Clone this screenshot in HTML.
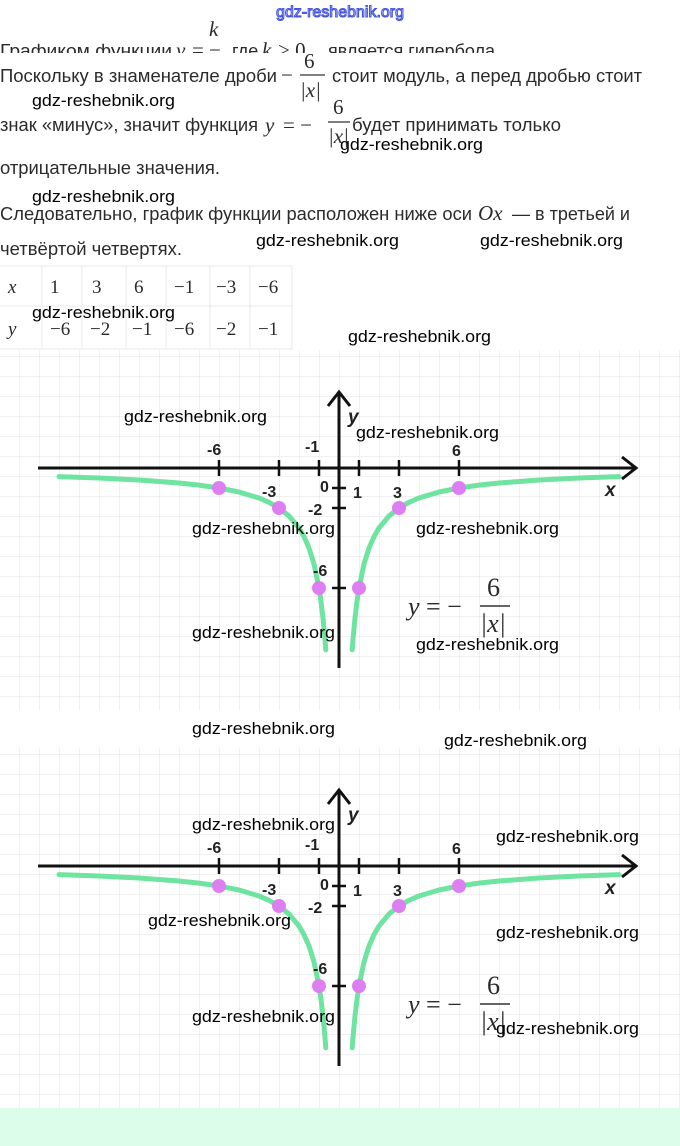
<!DOCTYPE html>
<html><head><meta charset="utf-8"><style>
html,body{margin:0;padding:0;background:#fff;width:680px;height:1146px;overflow:hidden}
svg{display:block}
.t{font-family:"Liberation Sans",sans-serif;font-size:18px;fill:#2b2b2b}
.m{font-family:"Liberation Serif",serif;font-size:21px;fill:#2b2b2b}
.mi{font-family:"Liberation Serif",serif;font-style:italic;font-size:21px;fill:#2b2b2b}
.w{font-family:"Liberation Sans",sans-serif;font-size:17px;fill:#000}
.l{font-family:"Liberation Sans",sans-serif;font-size:16px;font-weight:bold;fill:#222}
</style></head><body>
<svg width="680" height="1146" viewBox="0 0 680 1146" xmlns="http://www.w3.org/2000/svg">
<defs>
<pattern id="g" width="20" height="20" patternUnits="userSpaceOnUse" x="19" y="8">
<path d="M0 0H20M0 0V20" stroke="#e6e6e6" stroke-width="1.2" fill="none"/>
</pattern>
<g id="graph">
<rect x="0" y="-118" width="680" height="360" fill="url(#g)"/>
<line x1="38" y1="0" x2="634" y2="0" stroke="#111" stroke-width="3"/>
<path d="M622 -11 L636 0 L622 11" stroke="#111" stroke-width="3" fill="none"/>
<line x1="339" y1="200" x2="339" y2="-74" stroke="#111" stroke-width="3"/>
<path d="M328 -62 L339 -76 L350 -62" stroke="#111" stroke-width="3" fill="none"/>
<g stroke="#111" stroke-width="2.5">
<line x1="219" y1="-8" x2="219" y2="8"/><line x1="279" y1="-8" x2="279" y2="8"/><line x1="319" y1="-8" x2="319" y2="8"/>
<line x1="359" y1="-8" x2="359" y2="8"/><line x1="399" y1="-8" x2="399" y2="8"/><line x1="459" y1="-8" x2="459" y2="8"/>
<line x1="332" y1="20" x2="346" y2="20"/><line x1="332" y1="40" x2="346" y2="40"/><line x1="332" y1="120" x2="346" y2="120"/>
</g>
<g fill="none" stroke="#6fe3a0" stroke-width="5" stroke-linecap="round" stroke-linejoin="round">
<polyline points="59,8.6 99,10 139,12 179,15 199,17.1 219,20 239,24 259,30 269,34.3 279,40 289,48 299,60 304,68.6 309,80 314,96 319,120 321,133.3 323,150 325,171.4 325.8,181.8"/>
<polyline points="619,8.6 579,10 539,12 499,15 479,17.1 459,20 439,24 419,30 409,34.3 399,40 389,48 379,60 374,68.6 369,80 364,96 359,120 357,133.3 355,150 353,171.4 352.2,181.8"/>
</g>
<g fill="#dd7ff0">
<circle cx="219" cy="20" r="7"/><circle cx="279" cy="40" r="7"/><circle cx="319" cy="120" r="7"/>
<circle cx="459" cy="20" r="7"/><circle cx="399" cy="40" r="7"/><circle cx="359" cy="120" r="7"/>
</g>
<text class="l" x="207" y="-13">-6</text>
<text class="l" x="305" y="-16">-1</text>
<text class="l" x="452" y="-12">6</text>
<text class="l" x="262" y="29">-3</text>
<text class="l" x="393" y="30">3</text>
<text class="l" x="320" y="24">0</text>
<text class="l" x="353" y="30">1</text>
<text class="l" x="308" y="47">-2</text>
<text class="l" x="313" y="108">-6</text>
<text x="348" y="-45" font-family="Liberation Sans,sans-serif" font-size="19" font-style="italic" font-weight="bold" fill="#222">y</text>
<text x="605" y="28" font-family="Liberation Sans,sans-serif" font-size="19" font-style="italic" font-weight="bold" fill="#222">x</text>
<text class="mi" x="408" y="147" style="font-size:26px">y</text>
<text class="m" x="426" y="147" style="font-size:26px">= −</text>
<text class="m" x="487" y="128" style="font-size:26px">6</text>
<line x1="480" y1="138" x2="510" y2="138" stroke="#333" stroke-width="1.4"/>
<text class="mi" x="480" y="164" style="font-size:26px">|x|</text>
</g>
</defs>

<text x="340" y="17" text-anchor="middle" font-family="Liberation Sans,sans-serif" font-size="16" fill="#fff" stroke="#4455dd" stroke-width="1.1">gdz-reshebnik.org</text>

<text class="t" x="0" y="57" textLength="172" lengthAdjust="spacingAndGlyphs">Графиком функции</text>
<text class="mi" x="176" y="57">y</text><text class="m" x="192" y="57">=</text>
<text class="mi" x="209" y="36">k</text><text class="m" x="209" y="57">−</text>
<text class="t" x="232" y="57">где</text>
<text class="mi" x="262" y="57">k</text><text class="m" x="278" y="57">&gt; 0</text>
<text class="t" x="318" y="57" textLength="177" lengthAdjust="spacingAndGlyphs">, является гипербола</text>
<rect x="0" y="53" width="500" height="10" fill="#fff"/>

<text class="t" x="0" y="82" textLength="277" lengthAdjust="spacingAndGlyphs">Поскольку в знаменателе дроби</text>
<text class="m" x="281" y="82">−</text>
<text class="m" x="304" y="68">6</text>
<line x1="300" y1="75" x2="325" y2="75" stroke="#333" stroke-width="1.2"/>
<text class="mi" x="300" y="97">|x|</text>
<text class="t" x="332" y="82" textLength="310" lengthAdjust="spacingAndGlyphs">стоит модуль, а перед дробью стоит</text>

<text class="t" x="0" y="131" textLength="258" lengthAdjust="spacingAndGlyphs">знак «минус», значит функция</text>
<text class="mi" x="265" y="132">y</text><text class="m" x="283" y="132">= −</text>
<text class="m" x="333" y="114">6</text>
<line x1="328" y1="122" x2="350" y2="122" stroke="#333" stroke-width="1.2"/>
<text class="mi" x="328" y="143">|x|</text>
<text class="t" x="352" y="131" textLength="209" lengthAdjust="spacingAndGlyphs">будет принимать только</text>

<text class="t" x="0" y="174" textLength="220" lengthAdjust="spacingAndGlyphs">отрицательные значения.</text>
<text class="t" x="0" y="220" textLength="472" lengthAdjust="spacingAndGlyphs">Следовательно, график функции расположен ниже оси</text>
<text class="mi" x="478" y="220">Ox</text>
<text class="t" x="512" y="220" textLength="118" lengthAdjust="spacingAndGlyphs">— в третьей и</text>
<text class="t" x="0" y="255" textLength="182" lengthAdjust="spacingAndGlyphs">четвёртой четвертях.</text>

<g stroke="#e8e8e8" stroke-width="1">
<line x1="0" y1="266" x2="292" y2="266"/><line x1="0" y1="306" x2="292" y2="306"/><line x1="0" y1="349" x2="292" y2="349"/>
<line x1="42" y1="266" x2="42" y2="349"/><line x1="82" y1="266" x2="82" y2="349"/><line x1="126" y1="266" x2="126" y2="349"/>
<line x1="166" y1="266" x2="166" y2="349"/><line x1="210" y1="266" x2="210" y2="349"/><line x1="250" y1="266" x2="250" y2="349"/><line x1="292" y1="266" x2="292" y2="349"/>
</g>
<g>
<text class="mi" x="8" y="293" style="font-size:19px">x</text>
<text class="m" x="50" y="293" style="font-size:19px">1</text><text class="m" x="92" y="293" style="font-size:19px">3</text><text class="m" x="134" y="293" style="font-size:19px">6</text>
<text class="m" x="174" y="293" style="font-size:19px">−1</text><text class="m" x="216" y="293" style="font-size:19px">−3</text><text class="m" x="258" y="293" style="font-size:19px">−6</text>
<text class="mi" x="8" y="335" style="font-size:19px">y</text>
<text class="m" x="50" y="335" style="font-size:19px">−6</text><text class="m" x="90" y="335" style="font-size:19px">−2</text><text class="m" x="132" y="335" style="font-size:19px">−1</text>
<text class="m" x="174" y="335" style="font-size:19px">−6</text><text class="m" x="216" y="335" style="font-size:19px">−2</text><text class="m" x="258" y="335" style="font-size:19px">−1</text>
</g>

<use href="#graph" transform="translate(0,468)"/>
<use href="#graph" transform="translate(0,866)"/>
<rect x="0" y="710" width="680" height="36" fill="#fff"/>
<rect x="0" y="1108" width="680" height="38" fill="#dcfde9"/>

<g>
<text class="w" x="32" y="106" textLength="143" lengthAdjust="spacingAndGlyphs">gdz-reshebnik.org</text>
<text class="w" x="340" y="150" textLength="143" lengthAdjust="spacingAndGlyphs">gdz-reshebnik.org</text>
<text class="w" x="32" y="202" textLength="143" lengthAdjust="spacingAndGlyphs">gdz-reshebnik.org</text>
<text class="w" x="256" y="246" textLength="143" lengthAdjust="spacingAndGlyphs">gdz-reshebnik.org</text>
<text class="w" x="480" y="246" textLength="143" lengthAdjust="spacingAndGlyphs">gdz-reshebnik.org</text>
<text class="w" x="32" y="318" textLength="143" lengthAdjust="spacingAndGlyphs">gdz-reshebnik.org</text>
<text class="w" x="348" y="342" textLength="143" lengthAdjust="spacingAndGlyphs">gdz-reshebnik.org</text>
<text class="w" x="124" y="422" textLength="143" lengthAdjust="spacingAndGlyphs">gdz-reshebnik.org</text>
<text class="w" x="356" y="438" textLength="143" lengthAdjust="spacingAndGlyphs">gdz-reshebnik.org</text>
<text class="w" x="192" y="534" textLength="143" lengthAdjust="spacingAndGlyphs">gdz-reshebnik.org</text>
<text class="w" x="416" y="534" textLength="143" lengthAdjust="spacingAndGlyphs">gdz-reshebnik.org</text>
<text class="w" x="192" y="638" textLength="143" lengthAdjust="spacingAndGlyphs">gdz-reshebnik.org</text>
<text class="w" x="416" y="650" textLength="143" lengthAdjust="spacingAndGlyphs">gdz-reshebnik.org</text>
<text class="w" x="192" y="734" textLength="143" lengthAdjust="spacingAndGlyphs">gdz-reshebnik.org</text>
<text class="w" x="444" y="746" textLength="143" lengthAdjust="spacingAndGlyphs">gdz-reshebnik.org</text>
<text class="w" x="192" y="830" textLength="143" lengthAdjust="spacingAndGlyphs">gdz-reshebnik.org</text>
<text class="w" x="496" y="842" textLength="143" lengthAdjust="spacingAndGlyphs">gdz-reshebnik.org</text>
<text class="w" x="148" y="926" textLength="143" lengthAdjust="spacingAndGlyphs">gdz-reshebnik.org</text>
<text class="w" x="496" y="938" textLength="143" lengthAdjust="spacingAndGlyphs">gdz-reshebnik.org</text>
<text class="w" x="192" y="1022" textLength="143" lengthAdjust="spacingAndGlyphs">gdz-reshebnik.org</text>
<text class="w" x="496" y="1034" textLength="143" lengthAdjust="spacingAndGlyphs">gdz-reshebnik.org</text>
</g>
</svg>
</body></html>
